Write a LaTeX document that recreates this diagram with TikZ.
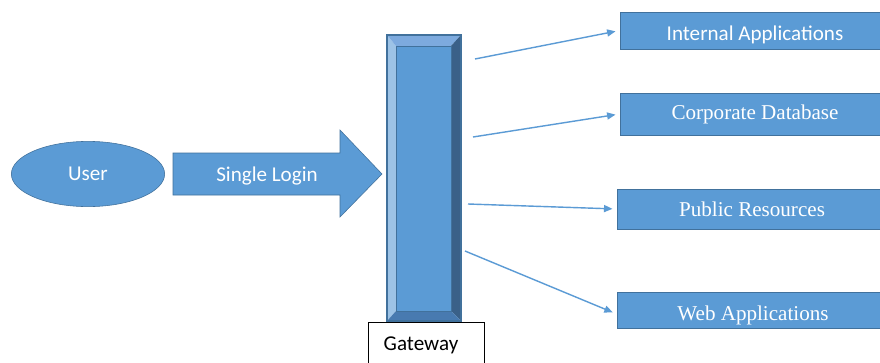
\documentclass[tikz,border=0pt]{standalone}
\usepackage{fontspec}
\setmainfont{Liberation Serif}
\newfontfamily\calibri{Carlito}
\usetikzlibrary{shapes.geometric,arrows.meta,calc}
\definecolor{mainblue}{RGB}{91,155,213}
\definecolor{edgeblue}{RGB}{65,113,156}
\definecolor{bevlight}{RGB}{157,195,230}
\definecolor{bevtop}{RGB}{125,170,222}
\definecolor{bevdark}{RGB}{58,96,136}
\definecolor{bevbottom}{RGB}{72,122,176}
\tikzset{
  appbox/.style={draw=edgeblue, fill=mainblue, text=white, minimum width=6.75cm, font=\fontsize{15}{17}\selectfont},
  sanslabel/.style={font=\calibri\fontsize{15}{17}\selectfont},
  link/.style={draw=mainblue, line width=1pt, -{Triangle[length=6pt,width=5pt]}, shorten >=3pt},
}
\begin{document}
\begin{tikzpicture}[x=0.025cm, y=-0.025cm]
\clip (0,0) rectangle (880,362);
\fill[white] (0,0) rectangle (880,362);

\node[ellipse, draw=edgeblue, fill=mainblue, text=white, minimum width=3.83cm, minimum height=1.63cm, sanslabel] (user) at (88,174) {User};

\filldraw[draw=edgeblue, fill=mainblue] (173,153) -- (340,153) -- (340,130) -- (382,174) -- (340,217) -- (340,195) -- (173,195) -- cycle;
\node[text=white, sanslabel] (login) at (267,176) {Single Login};

\fill[bevlight] (387,35) -- (396,46) -- (396,311) -- (387,321) -- cycle;
\fill[bevtop] (387,35) -- (461,35) -- (451,46) -- (396,46) -- cycle;
\fill[bevdark] (461,35) -- (461,321) -- (451,311) -- (451,46) -- cycle;
\fill[bevbottom] (387,321) -- (396,311) -- (451,311) -- (461,321) -- cycle;
\filldraw[draw=edgeblue, fill=mainblue] (396,46) rectangle (451,311);
\draw[edgeblue, line width=0.8pt] (387,35) rectangle (461,321);
\node[inner sep=0pt, minimum width=1.85cm, minimum height=7.15cm] (gw) at (424,178) {};

\node[draw=black, fill=white, minimum width=2.9cm, minimum height=1.2cm] (gwlabel) at (426,346) {};
\node[sanslabel] at (421,345) {Gateway};

\node[appbox, minimum height=0.925cm] (ia) at (755,30.5) {};
\begin{scope}
\clip (ia.south west) rectangle (ia.north east);
\node[text=white, sanslabel] at (755,35) {Internal Applications};
\end{scope}
\node[appbox, minimum height=1.05cm] (cd) at (755,114) {Corporate Database};
\node[appbox, minimum height=1.0cm] (pr) at (752,209) {Public Resources};
\node[appbox, minimum height=0.9cm] (wa) at (752,310) {};
\begin{scope}
\clip (wa.south west) rectangle (wa.north east);
\node[text=white, font=\fontsize{15}{17}\selectfont] at (753,315) {Web Applications};
\end{scope}

\coordinate (s1) at (475,59);
\coordinate (s2) at (473,137);
\coordinate (s3) at (468,204);
\coordinate (s4) at (465,251);
\draw[link] (s1) -- (ia.west);
\draw[link] (s2) -- (cd.west);
\draw[link] (s3) -- (pr.west);
\draw[link] (s4) -- ($(wa.west)+(0,4)$);
\end{tikzpicture}
\end{document}
